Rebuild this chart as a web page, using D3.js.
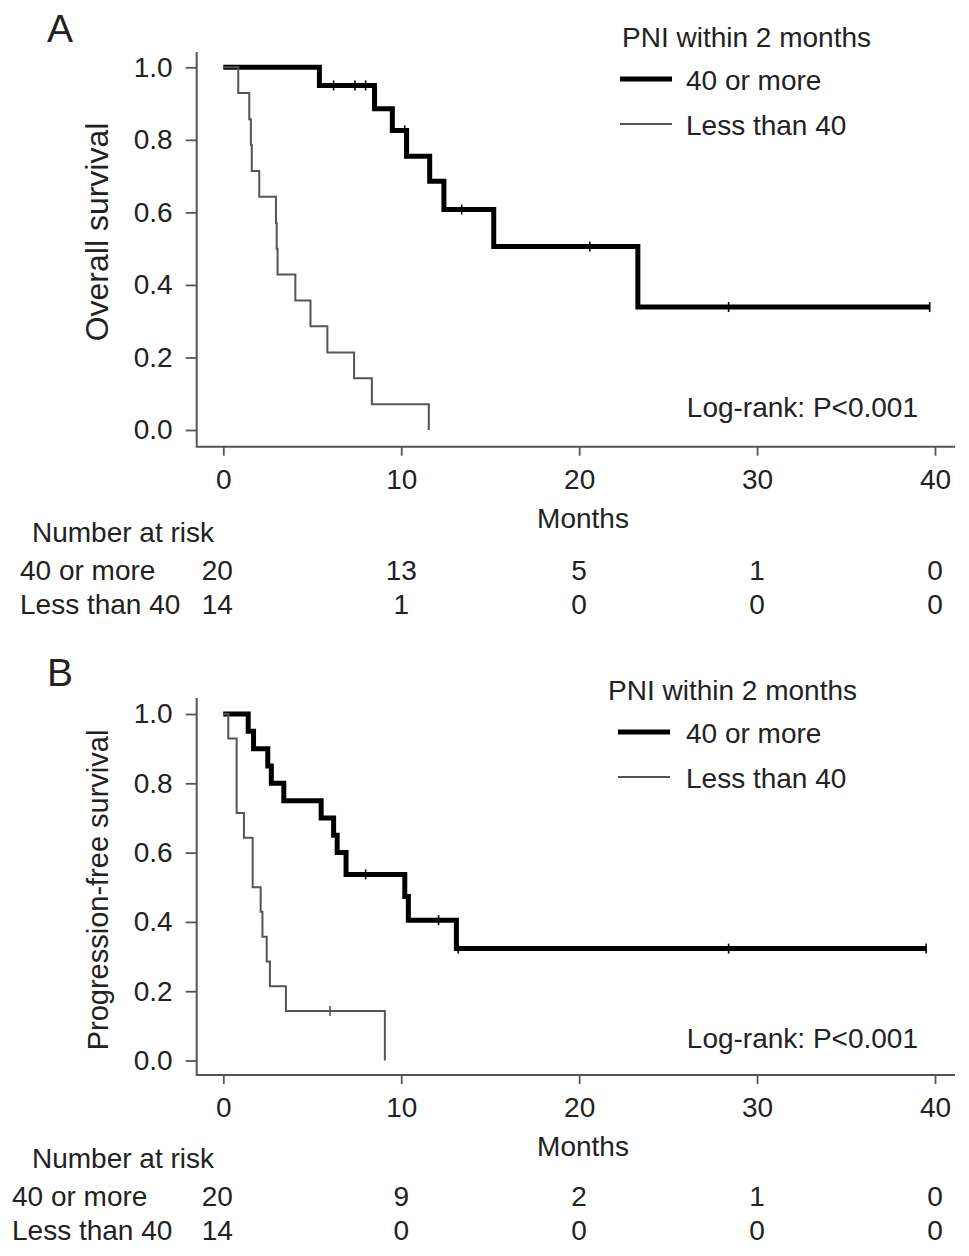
<!DOCTYPE html>
<html>
<head>
<meta charset="utf-8">
<script src="https://cdn.jsdelivr.net/npm/d3@7"></script>
<style>
  body { margin: 0; background: #fff; }
  svg text { font-family: "Liberation Sans", Arial, Helvetica, sans-serif; fill: #222; }
</style>
</head>
<body>
<script>
// step curves as (month, survival) pairs
const groups = ['40 or more', 'Less than 40'];
const riskTimes = [0, 10, 20, 30, 40];
const xTicks = [0, 10, 20, 30, 40];
const yTicks = [0, 0.2, 0.4, 0.6, 0.8, 1.0];

// A: overall survival
const osHighTime = [0, 5.4, 8.5, 9.5, 10.3, 11.6, 12.4, 15.2, 23.3, 39.7];
const osHighSurv = [1.0, 0.95, 0.886, 0.826, 0.755, 0.686, 0.608, 0.506, 0.339, 0.339];
const osHighCensor = [6.2, 7.4, 8.0, 10.2, 13.4, 20.6, 28.4, 39.7];
const osLowTime = [0, 0.84, 1.46, 1.55, 1.6, 2.02, 2.96, 3.0, 3.05, 4.05, 4.9, 5.85, 7.35, 8.35, 11.55];
const osLowSurv = [1.0, 0.929, 0.857, 0.786, 0.714, 0.643, 0.571, 0.5, 0.429, 0.357, 0.286, 0.214, 0.143, 0.071, 0.0];
const osLowCensor = [];
const osRiskHigh = [20, 13, 5, 1, 0];
const osRiskLow = [14, 1, 0, 0, 0];

// B: progression-free survival
const pfsHighTime = [0, 1.4, 1.7, 2.5, 2.7, 3.4, 5.5, 6.2, 6.4, 6.9, 10.2, 10.4, 13.1, 39.5];
const pfsHighSurv = [1.0, 0.95, 0.9, 0.85, 0.8, 0.75, 0.7, 0.65, 0.6, 0.537, 0.473, 0.405, 0.323, 0.323];
const pfsHighCensor = [8.0, 12.1, 13.2, 28.4, 39.5];
const pfsLowTime = [0, 0.28, 0.75, 1.16, 1.65, 2.1, 2.2, 2.44, 2.62, 3.52, 9.08];
const pfsLowSurv = [1.0, 0.929, 0.714, 0.643, 0.5, 0.429, 0.357, 0.286, 0.214, 0.143, 0.0];
const pfsLowCensor = [6.0];
const pfsRiskHigh = [20, 9, 2, 1, 0];
const pfsRiskLow = [14, 0, 0, 0, 0];

const width = 969, height = 1256;
const fs = 28;
const axisColor = '#555';

const svg = d3.select('body').append('svg')
  .attr('width', width)
  .attr('height', height);

const xScale = d3.scaleLinear().domain([0, 40]).range([223.3, 935]);

function toPoints(times, surv) {
  return times.map((t, i) => ({t: t, s: surv[i]}));
}

function survAt(times, surv, t) {
  const i = d3.bisectRight(times, t) - 1;
  return surv[Math.max(0, i)];
}

function drawPanel(p) {
  const g = svg.append('g');
  const yScale = d3.scaleLinear().domain([0, 1]).range([p.yBottom, p.yTop]);
  const axisX = 196.7;

  // panel letter
  g.append('text').text(p.letter)
    .attr('x', 47).attr('y', p.letterY)
    .attr('font-size', 39);

  // y axis
  const yAxis = d3.axisLeft(yScale).tickValues(yTicks)
    .tickFormat(d3.format('.1f')).tickSize(11).tickPadding(13);
  const yg = g.append('g').attr('transform', `translate(${axisX},0)`).call(yAxis);
  yg.select('.domain').remove();
  yg.selectAll('.tick line').attr('stroke', axisColor).attr('stroke-width', 1.8);
  yg.selectAll('.tick text').attr('font-size', fs).attr('fill', '#222')
    .attr('font-family', '"Liberation Sans", Arial, sans-serif');

  // x axis
  const xAxis = d3.axisBottom(xScale).tickValues(xTicks).tickSize(9).tickPadding(13);
  const xg = g.append('g').attr('transform', `translate(0,${p.axisY})`).call(xAxis);
  xg.select('.domain').remove();
  xg.selectAll('.tick line').attr('stroke', axisColor).attr('stroke-width', 1.8);
  xg.selectAll('.tick text').attr('font-size', fs).attr('fill', '#222')
    .attr('font-family', '"Liberation Sans", Arial, sans-serif');

  // L-shaped frame
  g.append('path')
    .attr('d', `M${axisX},${p.axisTop}V${p.axisY}H955`)
    .attr('fill', 'none').attr('stroke', axisColor).attr('stroke-width', 2);

  // labels
  g.append('text').text('Months')
    .attr('x', 583).attr('y', p.axisY + 81)
    .attr('text-anchor', 'middle').attr('font-size', fs);
  g.append('text').text(p.yLabel)
    .attr('transform', `translate(108,${p.yLabelMid}) rotate(-90)`)
    .attr('text-anchor', 'middle').attr('font-size', p.yLabelSize);
  g.append('text').text('Log-rank: P<0.001')
    .attr('x', 918).attr('y', yScale(0) - 13)
    .attr('text-anchor', 'end').attr('font-size', fs);

  // curves
  const line = d3.line()
    .x(d => xScale(d.t))
    .y(d => yScale(d.s))
    .curve(d3.curveStepAfter);

  p.series.forEach(s => {
    g.append('path')
      .datum(toPoints(s.time, s.surv))
      .attr('d', line)
      .attr('fill', 'none')
      .attr('stroke', s.color)
      .attr('stroke-width', s.width)
      .attr('stroke-linejoin', 'miter');
    g.selectAll(null)
      .data(s.censor)
      .join('line')
      .attr('x1', d => xScale(d)).attr('x2', d => xScale(d))
      .attr('y1', d => yScale(survAt(s.time, s.surv, d)) - 5)
      .attr('y2', d => yScale(survAt(s.time, s.surv, d)) + 5)
      .attr('stroke', s.color)
      .attr('stroke-width', 1.6);
  });

  // legend
  const lg = g.append('g');
  lg.append('text').text('PNI within 2 months')
    .attr('x', p.legX).attr('y', p.legY).attr('font-size', fs);
  p.series.forEach((s, i) => {
    const yy = p.legY + 32 + i * 45;
    lg.append('line')
      .attr('x1', p.legX + p.legLine[0]).attr('x2', p.legX + p.legLine[1])
      .attr('y1', yy).attr('y2', yy)
      .attr('stroke', s.color).attr('stroke-width', s.width);
    lg.append('text').text(groups[i])
      .attr('x', 686).attr('y', yy + 11).attr('font-size', fs);
  });

  // number at risk table
  const tg = g.append('g');
  tg.append('text').text('Number at risk')
    .attr('x', 32).attr('y', p.riskY).attr('font-size', fs);
  p.risk.forEach((row, i) => {
    const yy = p.riskY + 38 + i * 34;
    tg.append('text').text(groups[i])
      .attr('x', p.riskLabelX).attr('y', yy).attr('font-size', fs);
    tg.selectAll(null)
      .data(row)
      .join('text')
      .attr('x', (d, j) => xScale(riskTimes[j]) - (j === 0 ? 6 : 0))
      .attr('y', yy)
      .attr('text-anchor', 'middle')
      .attr('font-size', fs)
      .text(d => d);
  });
}

drawPanel({
  letter: 'A', letterY: 42,
  yTop: 67.3, yBottom: 430, axisY: 446.7, axisTop: 52,
  yLabel: 'Overall survival', yLabelMid: 232, yLabelSize: 32,
  legX: 622, legY: 47, legLine: [-2, 50],
  riskY: 542, riskLabelX: 20,
  risk: [osRiskHigh, osRiskLow],
  series: [
    {time: osHighTime, surv: osHighSurv, censor: osHighCensor, color: '#000', width: 5},
    {time: osLowTime, surv: osLowSurv, censor: osLowCensor, color: '#555', width: 2}
  ]
});

drawPanel({
  letter: 'B', letterY: 686,
  yTop: 714, yBottom: 1060.5, axisY: 1075, axisTop: 698,
  yLabel: 'Progression-free survival', yLabelMid: 890, yLabelSize: 29,
  legX: 608, legY: 700, legLine: [10, 62],
  riskY: 1168, riskLabelX: 12,
  risk: [pfsRiskHigh, pfsRiskLow],
  series: [
    {time: pfsHighTime, surv: pfsHighSurv, censor: pfsHighCensor, color: '#000', width: 5},
    {time: pfsLowTime, surv: pfsLowSurv, censor: pfsLowCensor, color: '#555', width: 2}
  ]
});
</script>
</body>
</html>
